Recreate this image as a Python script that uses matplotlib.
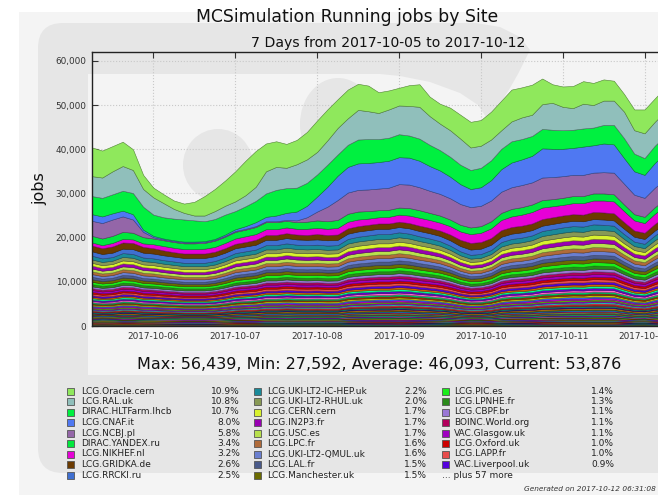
import numpy as np
import pandas as pd
import matplotlib
matplotlib.use('Agg')
import matplotlib.pyplot as plt
import matplotlib.dates as mdates
from matplotlib.patches import Rectangle, FancyBboxPatch, Ellipse, Polygon
from matplotlib.ticker import FuncFormatter, MultipleLocator
from matplotlib.colors import to_rgb

# ---------------- data (thousands of jobs, 3-hour bins) ----------------
times = pd.date_range('2017-10-05 06:00', periods=57, freq='3h')

oracle = [6.5,6.1,5.7,5.5,4.7,3.2,2.2,2.0,1.9,2.1,3.1,4.4,5.0,5.7,6.8,7.8,8.1,6.3,5.8,5.4,5.5,6.2,7.1,7.0,6.5,6.5,5.9,5.8,4.7,4.3,4.0,4.7,5.1,4.4,4.5,5.1,5.4,5.8,5.8,6.3,6.7,7.2,6.8,6.8,5.8,4.2,4.6,5.0,5.1,5.0,4.8,4.5,4.0,4.7,5.4,5.3,5.4]
ral = [4.5,4.6,5.2,5.6,5.2,4.0,3.9,3.2,2.2,1.5,1.1,1.3,1.8,2.0,2.2,2.5,3.2,5.0,5.2,4.6,5.3,5.3,5.1,5.5,6.0,6.0,6.7,6.3,5.9,6.4,6.5,6.7,7.2,6.5,6.0,6.0,5.9,5.1,5.0,4.7,4.2,4.5,4.9,4.8,5.6,6.1,5.3,4.9,5.6,5.1,5.5,5.5,6.0,5.3,5.6,5.4,5.5]
hltfarm = [4.1,4.2,4.3,4.5,4.8,5.2,4.8,4.8,4.9,5.0,4.8,4.5,4.5,4.5,4.1,4.5,4.8,5.3,5.8,5.6,5.4,5.2,5.0,5.0,4.8,5.0,5.4,5.4,5.2,5.2,5.2,5.0,5.0,4.8,4.6,4.5,4.4,4.3,4.4,4.5,4.6,4.8,4.6,4.5,4.4,4.3,4.2,4.1,4.1,4.0,4.2,4.4,4.5,4.0,3.8,3.9,4.0]
cnaf = [1.5,1.5,1.4,1.3,1.2,0.5,0.3,0.2,0.2,0.2,0.2,0.2,0.2,0.3,0.4,0.6,0.9,1.0,1.3,1.6,2.0,2.6,3.4,4.5,5.5,5.8,6.0,6.0,6.0,6.1,6.1,6.1,6.0,5.6,5.3,4.9,4.5,4.1,4.2,4.6,5.1,5.6,5.8,6.0,6.6,6.4,6.2,6.1,6.4,6.2,6.5,6.4,5.8,5.3,5.2,5.6,5.9]
ncbj = [3.4,3.5,3.7,3.5,3.0,1.2,0.3,0.2,0.2,0.2,0.2,0.2,0.2,0.2,0.2,0.2,0.2,0.2,0.2,0.2,0.4,1.0,2.0,3.3,4.5,4.8,4.9,4.9,4.9,5.0,5.3,5.3,5.2,5.0,4.9,4.8,4.7,4.6,4.6,4.7,4.8,4.9,5.0,5.0,5.1,5.0,4.9,4.8,4.8,4.7,4.8,4.9,4.7,4.4,4.3,4.4,4.5]
yandex = [1.5,1.5,1.6,1.6,1.5,1.4,1.3,1.3,1.3,1.3,1.3,1.3,1.4,1.4,1.5,1.5,1.6,1.6,1.6,1.5,1.5,1.6,1.7,1.7,1.8,1.8,1.8,1.7,1.6,1.6,1.6,1.7,1.7,1.6,1.6,1.5,1.5,1.5,1.5,1.6,1.6,1.7,1.7,1.7,1.7,1.6,1.6,1.6,1.6,1.6,1.6,1.6,1.5,1.4,1.4,1.5,1.5]
nikhef = [0.7,0.7,0.8,0.8,0.8,0.8,0.9,1.0,1.0,1.0,1.0,1.1,1.1,1.2,1.2,1.3,1.3,1.3,1.3,1.3,1.3,1.4,1.4,1.4,1.5,1.5,1.5,1.4,1.4,1.5,1.6,1.7,1.8,1.8,1.8,1.9,1.9,2.0,2.1,2.2,2.3,2.4,2.5,2.6,2.6,2.5,2.4,2.5,2.6,2.6,2.7,2.7,2.5,2.3,2.2,2.3,2.4]
gridka = [1.3,1.3,1.4,1.4,1.4,1.3,1.2,1.1,1.0,1.0,1.0,1.0,1.0,1.0,1.0,1.0,1.1,1.1,1.1,1.1,1.1,1.1,1.2,1.2,1.2,1.2,1.2,1.2,1.2,1.2,1.2,1.2,1.2,1.2,1.2,1.3,1.4,1.5,1.5,1.5,1.5,1.5,1.5,1.5,1.5,1.5,1.5,1.5,1.5,1.6,1.6,1.6,1.5,1.4,1.4,1.5,1.5]
rrcki = [1.0,1.0,1.0,1.0,1.1,1.1,1.1,1.1,1.1,1.1,1.1,1.1,1.1,1.1,1.1,1.1,1.1,1.2,1.2,1.2,1.2,1.2,1.2,1.2,1.2,1.2,1.2,1.2,1.2,1.2,1.2,1.2,1.2,1.2,1.2,1.2,1.2,1.2,1.2,1.2,1.2,1.2,1.2,1.2,1.2,1.2,1.2,1.2,1.2,1.2,1.2,1.2,1.2,1.1,1.1,1.1,1.1]
# everything below LCG.RRCKI.ru (smaller sites), read as one total
smaller_sites_total = [15.9,15.3,15.6,16.5,16.3,15.5,15.3,14.9,14.6,14.3,14.3,14.3,14.7,15.5,16.5,16.9,17.3,18.3,18.3,18.7,18.4,18.3,18.4,18.2,18.3,19.7,20.2,20.5,20.8,20.8,21.2,20.9,20.3,19.8,19.2,18.2,16.9,16.1,16.3,17.2,19.0,19.7,20.0,20.5,21.5,21.9,22.3,22.6,22.5,23.0,22.9,22.7,20.8,19.1,18.6,20.5,22.1]

legend_names = ['LCG.Oracle.cern','LCG.RAL.uk','DIRAC.HLTFarm.lhcb','LCG.CNAF.it','LCG.NCBJ.pl',
                'DIRAC.YANDEX.ru','LCG.NIKHEF.nl','LCG.GRIDKA.de','LCG.RRCKI.ru',
                'LCG.UKI-LT2-IC-HEP.uk','LCG.UKI-LT2-RHUL.uk','LCG.CERN.cern','LCG.IN2P3.fr','LCG.USC.es',
                'LCG.LPC.fr','LCG.UKI-LT2-QMUL.uk','LCG.LAL.fr','LCG.Manchester.uk',
                'LCG.PIC.es','LCG.LPNHE.fr','LCG.CBPF.br','BOINC.World.org','VAC.Glasgow.uk',
                'LCG.Oxford.uk','LCG.LAPP.fr','VAC.Liverpool.uk']
legend_pct = [10.9,10.8,10.7,8.0,5.8,3.4,3.2,2.6,2.5,
              2.2,2.0,1.7,1.7,1.7,1.6,1.6,1.5,1.5,
              1.4,1.3,1.1,1.1,1.1,1.0,1.0,0.9]
legend_colors = ['#8fe85c','#90bfbb','#00f040','#4f78f2','#9466a8','#00e83d','#e600d6','#6b3a00','#3f6fd0',
                 '#1a8a99','#889955','#d9f22e','#9900b3','#b8e04d','#b06b3a','#6a7fd0','#4a5a8a','#6b6b00',
                 '#1aee1a','#2a8a1a','#9a77d6','#b3005c','#a000c0','#cc0000','#e84c4c','#5500dd']
# estimated shares (%) of the 57 unnamed sites
other_pct = [0.85,0.8,0.8,0.75,0.7,0.7,0.65,0.6,0.6,0.55,0.55,0.5,0.5,0.5,0.45,0.45,0.4,0.4,0.4,
             0.35,0.35,0.35,0.3,0.3,0.3,0.3,0.25,0.25,0.25,0.25,0.2,0.2,0.2,0.2,0.2,0.15,0.15,0.15,
             0.15,0.12,0.12,0.12,0.1,0.1,0.1,0.1,0.08,0.08,0.08,0.06,0.06,0.05,0.05,0.04,0.04,0.03,0.03]
other_colors = ['#ff3333','#22dddd','#9900cc','#66cc00','#cc00cc','#3366ff','#cccc00','#993300',
                '#00cc66','#ff66cc','#6600cc','#00ff99','#cc6600','#336699','#99cc33','#cc0066',
                '#0099ff','#666600','#ff9900','#330099','#00aa88','#aa2222']

stats_text = 'Max: 56,439, Min: 27,592, Average: 46,093, Current: 53,876'

# ---------------- figure ----------------
W, H = 658, 495
fig = plt.figure(figsize=(W/100, H/100), dpi=100)
fig.patch.set_facecolor('white')

LIGHT, GRAY = '#f4f4f4', '#e6e6e6'
bg = fig.add_axes([0, 0, 1, 1], zorder=0)
bg.set_xlim(0, W); bg.set_ylim(H, 0); bg.axis('off')
bg.add_patch(Rectangle((19, 12), 700, 500, color=LIGHT, lw=0))
bg.add_patch(FancyBboxPatch((38, 23), 700, 450, boxstyle='round,pad=0,rounding_size=25',
                            color=GRAY, lw=0))
bg.add_patch(Rectangle((88, 74), 700, 301, color=LIGHT, lw=0))
# top-right of the watermark: light area beyond the big curve
bg.add_patch(Polygon([(470, 22), (700, 22), (700, 74), (518, 74), (524, 62), (530, 50),
                      (520, 37), (500, 27)], closed=True, color=LIGHT, lw=0))
# grey crescent reaching down into the plot
bg.add_patch(Polygon([(370, 73), (400, 76), (430, 82), (460, 93), (478, 105), (490, 123),
                      (500, 104), (510, 88), (518, 74)], closed=True, color=GRAY, lw=0))
bg.add_patch(Ellipse((218, 165), 70, 72, color=GRAY, lw=0))
bg.add_patch(Ellipse((338, 124), 76, 92, color=GRAY, lw=0))

def px2fig(x0, y0, x1, y1):
    return [x0/W, 1 - y1/H, (x1-x0)/W, (y1-y0)/H]

ax = fig.add_axes(px2fig(92, 52, 665, 326), zorder=1)
ax.set_facecolor('none')

def darker(c, f=0.6):
    r, g, b = to_rgb(c)
    return (r*f, g*f, b*f)

top_series = [oracle, ral, hltfarm, cnaf, ncbj, yandex, nikhef, gridka, rrcki]
small_pct = legend_pct[9:]
share_total = sum(small_pct) + sum(other_pct)
rest = np.array(smaller_sites_total)

layers, colors = [], []
for i, p in enumerate(sorted(other_pct)):
    layers.append(rest * p / share_total)
    colors.append(other_colors[i % len(other_colors)])
for name_i in range(len(legend_pct) - 1, 8, -1):
    layers.append(rest * legend_pct[name_i] / share_total)
    colors.append(legend_colors[name_i])
for name_i in range(8, -1, -1):
    layers.append(np.array(top_series[name_i]))
    colors.append(legend_colors[name_i])

layers = [l * 1000 for l in layers]
polys = ax.stackplot(times, *layers, colors=colors, lw=0.4)
for p, c in zip(polys, colors):
    p.set_edgecolor(darker(c, 0.55))

ax.set_xlim(pd.Timestamp('2017-10-05 06:00'), pd.Timestamp('2017-10-12 06:00'))
ax.set_ylim(0, 62000)
ax.yaxis.set_major_locator(MultipleLocator(10000))
ax.yaxis.set_major_formatter(FuncFormatter(lambda v, p: f'{int(v):,}'))
ax.xaxis.set_major_locator(mdates.DayLocator())
ax.xaxis.set_major_formatter(mdates.DateFormatter('%Y-%m-%d'))
ax.tick_params(direction='in', top=True, right=True, length=4, width=0.8,
               labelsize=6.4, colors='#333333', pad=4)
ax.grid(True, color='#c8c8c8', linestyle=':', linewidth=0.8)
ax.set_axisbelow(True)
for s in ax.spines.values():
    s.set_color('#222222'); s.set_linewidth(1.0)

fig.text(347/W, 1 - 17/H, 'MCSimulation Running jobs by Site', ha='center', va='center',
         fontsize=12.4, color='#111111')
fig.text(388/W, 1 - 43/H, '7 Days from 2017-10-05 to 2017-10-12', ha='center', va='center',
         fontsize=10.1, color='#111111')
fig.text(40/W, 1 - 189/H, 'jobs', rotation=90, ha='center', va='center', fontsize=11.5,
         color='#111111')
fig.text(379/W, 1 - 365/H, stats_text, ha='center', va='center', fontsize=11.5, color='#111111')

# legend
col_sq = [67, 254, 442]
col_name = [81, 267, 454]
col_pct = [240, 427, 614]
row_y0, row_dy = 391, 10.5
for i, (n, c, p) in enumerate(zip(legend_names, legend_colors, legend_pct)):
    col, row = divmod(i, 9)
    y = row_y0 + row * row_dy
    bg.add_patch(Rectangle((col_sq[col], y - 3.5), 7, 7, facecolor=c, edgecolor='#555555', lw=0.6))
    fig.text(col_name[col]/W, 1 - y/H, n, ha='left', va='center', fontsize=6.5, color='#222222')
    fig.text(col_pct[col]/W, 1 - y/H, f'{p:.1f}%', ha='right', va='center', fontsize=6.5,
             color='#222222')
fig.text(442/W, 1 - (row_y0 + 8*row_dy)/H, '... plus 57 more', ha='left', va='center',
         fontsize=6.5, color='#222222')
fig.text(656/W, 1 - 489/H, 'Generated on 2017-10-12 06:31:08', ha='right', va='center',
         fontsize=5.3, style='italic', color='#333333')

fig.savefig('out.png', dpi=100)
